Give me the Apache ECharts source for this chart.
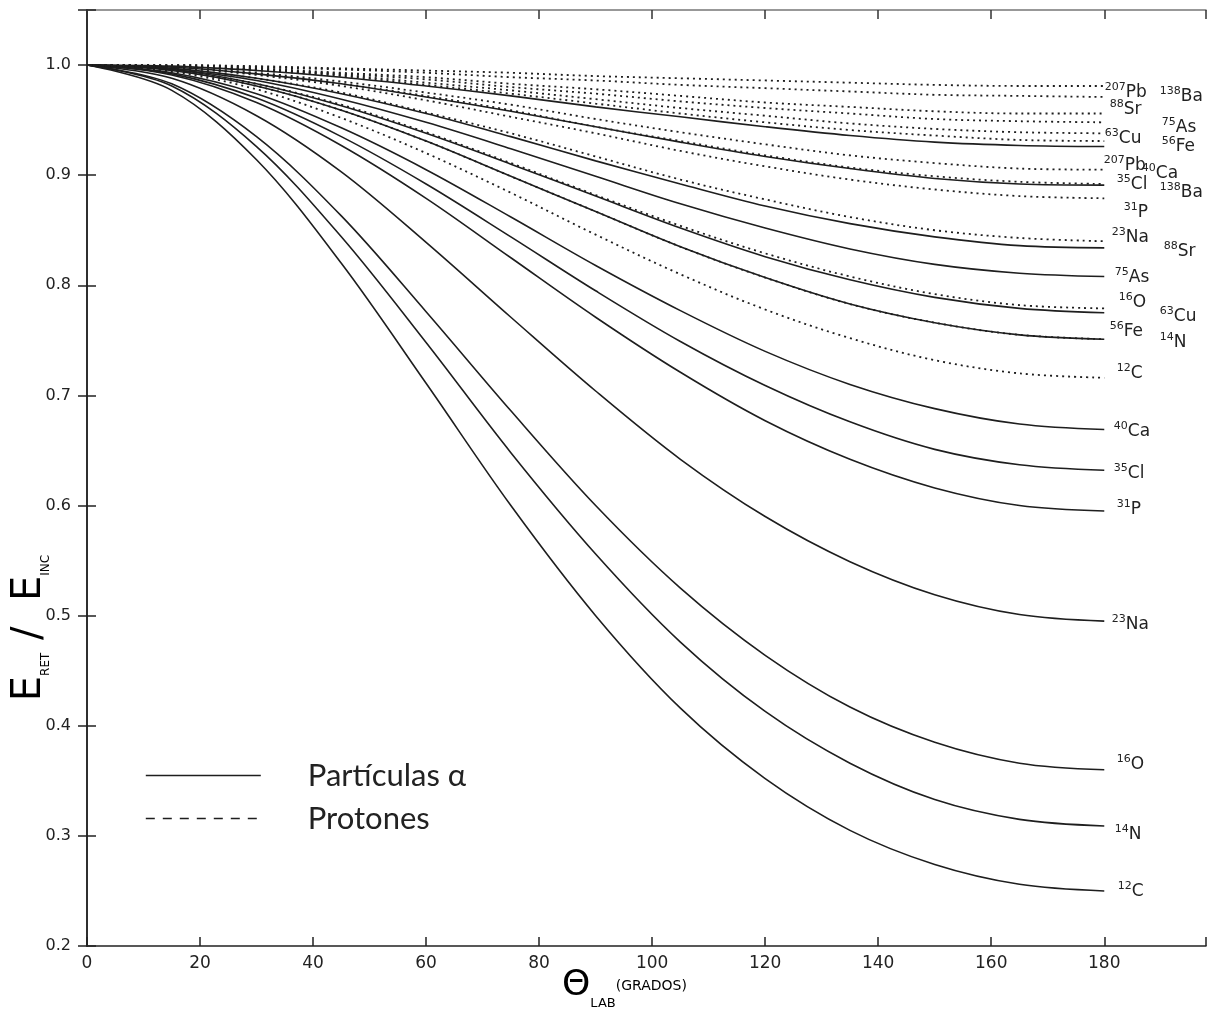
<!DOCTYPE html>
<html>
<head>
<meta charset="utf-8">
<script src="https://cdn.jsdelivr.net/npm/echarts@6/dist/echarts.min.js"></script>
<style>
html, body { margin: 0; padding: 0; background: #fff; }
#chart { width: 1211px; height: 1017px; }
</style>
</head>
<body>
<div id="chart"></div>
<script>
// angulo de laboratorio (grados)
var angles = [0, 15, 30, 45, 60, 75, 90, 105, 120, 135, 150, 165, 180];

// Particulas alfa, E_ret / E_inc
var aC12  = [1, 0.977, 0.914, 0.820, 0.711, 0.600, 0.500, 0.416, 0.352, 0.305, 0.274, 0.256, 0.250];
var aN14  = [1, 0.981, 0.926, 0.844, 0.748, 0.648, 0.556, 0.476, 0.413, 0.366, 0.333, 0.315, 0.309];
var aO16  = [1, 0.983, 0.935, 0.863, 0.776, 0.686, 0.600, 0.525, 0.464, 0.417, 0.385, 0.366, 0.360];
var aNa23 = [1, 0.988, 0.954, 0.903, 0.839, 0.771, 0.704, 0.642, 0.590, 0.549, 0.519, 0.501, 0.495];
var aP31  = [1, 0.991, 0.966, 0.927, 0.879, 0.825, 0.771, 0.721, 0.677, 0.642, 0.616, 0.600, 0.595];
var aCl35 = [1, 0.992, 0.970, 0.935, 0.892, 0.844, 0.795, 0.749, 0.709, 0.676, 0.651, 0.637, 0.632];
var aCa40 = [1, 0.993, 0.974, 0.943, 0.905, 0.862, 0.818, 0.777, 0.740, 0.710, 0.688, 0.674, 0.669];
var aFe56 = [1, 0.995, 0.981, 0.959, 0.931, 0.899, 0.867, 0.835, 0.807, 0.783, 0.766, 0.755, 0.751];
var aCu63 = [1, 0.996, 0.983, 0.963, 0.938, 0.910, 0.881, 0.852, 0.826, 0.805, 0.789, 0.779, 0.775];
var aAs75 = [1, 0.996, 0.986, 0.969, 0.948, 0.924, 0.899, 0.874, 0.852, 0.833, 0.819, 0.811, 0.808];
var aSr88 = [1, 0.997, 0.988, 0.974, 0.956, 0.935, 0.913, 0.892, 0.872, 0.856, 0.844, 0.836, 0.834];
var aBa138 = [1, 0.998, 0.992, 0.983, 0.971, 0.958, 0.944, 0.930, 0.917, 0.906, 0.897, 0.892, 0.891];
var aPb207 = [1, 0.999, 0.995, 0.989, 0.981, 0.972, 0.962, 0.953, 0.944, 0.936, 0.930, 0.927, 0.926];

// Protones
var pC12  = [1, 0.994, 0.978, 0.952, 0.920, 0.884, 0.846, 0.810, 0.778, 0.752, 0.732, 0.720, 0.716];
var pN14  = [1, 0.995, 0.981, 0.959, 0.931, 0.899, 0.867, 0.835, 0.807, 0.783, 0.766, 0.755, 0.751];
var pO16  = [1, 0.996, 0.983, 0.964, 0.939, 0.911, 0.882, 0.854, 0.829, 0.808, 0.792, 0.782, 0.779];
var pNa23 = [1, 0.997, 0.988, 0.975, 0.957, 0.938, 0.917, 0.896, 0.878, 0.862, 0.850, 0.843, 0.840];
var pP31  = [1, 0.998, 0.991, 0.981, 0.968, 0.953, 0.938, 0.922, 0.908, 0.896, 0.887, 0.881, 0.879];
var pCl35 = [1, 0.998, 0.992, 0.983, 0.972, 0.959, 0.944, 0.931, 0.918, 0.907, 0.899, 0.894, 0.892];
var pCa40 = [1, 0.998, 0.993, 0.985, 0.975, 0.964, 0.951, 0.939, 0.928, 0.918, 0.911, 0.906, 0.905];
var pFe56 = [1, 0.999, 0.995, 0.990, 0.982, 0.974, 0.965, 0.956, 0.948, 0.941, 0.936, 0.932, 0.931];
var pCu63 = [1, 0.999, 0.996, 0.991, 0.984, 0.977, 0.969, 0.961, 0.954, 0.947, 0.942, 0.939, 0.938];
var pAs75 = [1, 0.999, 0.996, 0.992, 0.987, 0.980, 0.974, 0.967, 0.961, 0.956, 0.951, 0.949, 0.948];
var pSr88 = [1, 0.999, 0.997, 0.993, 0.989, 0.983, 0.978, 0.972, 0.966, 0.962, 0.958, 0.956, 0.956];
var pBa138 = [1, 1.000, 0.998, 0.996, 0.993, 0.989, 0.986, 0.982, 0.979, 0.976, 0.973, 0.972, 0.971];
var pPb207 = [1, 1.000, 0.999, 0.997, 0.995, 0.993, 0.990, 0.988, 0.986, 0.984, 0.982, 0.981, 0.981];

// etiquetas: [masa, elemento, valores]
var alphaCurves = [
    ['12', 'C', aC12], ['14', 'N', aN14], ['16', 'O', aO16], ['23', 'Na', aNa23],
    ['31', 'P', aP31], ['35', 'Cl', aCl35], ['40', 'Ca', aCa40], ['56', 'Fe', aFe56],
    ['63', 'Cu', aCu63], ['75', 'As', aAs75], ['88', 'Sr', aSr88], ['138', 'Ba', aBa138],
    ['207', 'Pb', aPb207]
];
var protonCurves = [
    ['12', 'C', pC12], ['14', 'N', pN14], ['16', 'O', pO16], ['23', 'Na', pNa23],
    ['31', 'P', pP31], ['35', 'Cl', pCl35], ['40', 'Ca', pCa40], ['56', 'Fe', pFe56],
    ['63', 'Cu', pCu63], ['75', 'As', pAs75], ['88', 'Sr', pSr88], ['138', 'Ba', pBa138],
    ['207', 'Pb', pPb207]
];

// desplazamiento de cada etiqueta respecto al final de su curva (px)
var alphaLabelPos = {
    C: [14, 1], N: [11, 9], O: [13, -5], Na: [8, 4], P: [13, -1], Cl: [10, 4], Ca: [10, 3],
    Fe: [6, -7], Cu: [56, 4], As: [11, 2], Sr: [60, 4], Ba: [56, 8], Pb: [0, 20]
};
var protonLabelPos = {
    C: [13, -4], N: [56, 4], O: [15, -5], Na: [8, -3], P: [20, 15], Cl: [13, 1], Ca: [38, 4],
    Fe: [58, 6], Cu: [1, 6], As: [58, 6], Sr: [6, -3], Ba: [56, 0], Pb: [1, 7]
};

var FONT = 'DejaVu Sans';
var labelRich = {
    m: { fontSize: 11, lineHeight: 12, verticalAlign: 'top', fontFamily: FONT, color: '#222' },
    e: { fontSize: 17, lineHeight: 22, fontFamily: FONT, color: '#222' }
};

function endMark(c, pos) {
    var vals = c[2];
    return {
        symbol: 'rect',
        symbolSize: 1,
        silent: true,
        itemStyle: { color: 'transparent' },
        label: {
            show: true,
            position: pos,
            align: 'left',
            verticalAlign: 'middle',
            formatter: '{m|' + c[0] + '}{e|' + c[1] + '}',
            rich: labelRich
        },
        data: [{ coord: [angles[angles.length - 1], vals[vals.length - 1]] }]
    };
}

var series = [];
alphaCurves.forEach(function (c) {
    series.push({
        name: 'Partículas α',
        type: 'line',
        smooth: 0.34,
        symbol: 'none',
        data: angles.map(function (a, i) { return [a, c[2][i]]; }),
        lineStyle: { color: '#1e1e1e', width: 1.6 },
        itemStyle: { color: '#1e1e1e' },
        markPoint: endMark(c, alphaLabelPos[c[1]])
    });
});
protonCurves.forEach(function (c) {
    series.push({
        name: 'Protones',
        type: 'line',
        smooth: 0.34,
        symbol: 'none',
        data: angles.map(function (a, i) { return [a, c[2][i]]; }),
        lineStyle: { color: '#1e1e1e', width: 1.8, type: [2, 4] },
        itemStyle: { color: '#1e1e1e' },
        markPoint: endMark(c, protonLabelPos[c[1]])
    });
});

var legendText = {
    color: '#222',
    rich: { t: { fontSize: 31, fontFamily: 'Lato', padding: [0, 0, 0, 42], color: '#222' } }
};
var noDot = { color: 'transparent', borderColor: 'transparent', borderWidth: 0 };

var myChart = echarts.init(document.getElementById('chart'));

option = {
    backgroundColor: '#fff',
    animation: false,
    grid: { left: 87, right: 5, top: 10, bottom: 71 },
    legend: [
        {
            data: [{ name: 'Partículas α', itemStyle: noDot, lineStyle: { width: 1.6 } }],
            left: 140, top: 755, itemWidth: 115, itemHeight: 14,
            formatter: '{t|{name}}', textStyle: legendText, selectedMode: false
        },
        {
            data: [{ name: 'Protones', itemStyle: noDot, lineStyle: { type: [9, 8], width: 1.6 } }],
            left: 140, top: 798, itemWidth: 115, itemHeight: 14,
            formatter: '{t|{name}}', textStyle: legendText, selectedMode: false
        }
    ],
    xAxis: [
        {
            type: 'value', min: 0, max: 198, interval: 20,
            axisLine: { lineStyle: { color: '#222', width: 1.5 } },
            axisTick: { inside: true, length: 9, lineStyle: { color: '#222', width: 1.5 } },
            axisLabel: {
                margin: 9, fontSize: 17, fontFamily: FONT, color: '#222',
                formatter: function (v) { return v % 20 === 0 ? String(v) : ''; }
            },
            splitLine: { show: false }
        },
        {
            type: 'value', position: 'top', min: 0, max: 198, interval: 20,
            axisLine: { lineStyle: { color: '#777', width: 1.5 } },
            axisTick: { inside: true, length: 9, lineStyle: { color: '#333', width: 1.5 } },
            axisLabel: { show: false },
            splitLine: { show: false }
        }
    ],
    yAxis: [
        {
            type: 'value', min: 0.2, max: 1.05, interval: 0.1,
            axisLine: { show: true, lineStyle: { color: '#222', width: 1.5 } },
            axisTick: { show: true, inside: true, length: 9, lineStyle: { color: '#222', width: 1.5 } },
            axisLabel: {
                margin: 16, fontSize: 16, fontFamily: FONT, color: '#222',
                formatter: function (v) { return v > 1.02 ? '' : v.toFixed(1); }
            },
            splitLine: { show: false }
        },
        {
            type: 'value', position: 'right', min: 0.2, max: 1.05, interval: 0.1,
            axisLine: { show: true, lineStyle: { color: '#222', width: 1.5 } },
            axisTick: { show: true, inside: true, length: 9, lineStyle: { color: '#222', width: 1.5 } },
            axisLabel: { show: false },
            splitLine: { show: false }
        }
    ],
    graphic: [
        {
            type: 'text', left: 562, top: 968,
            style: {
                text: '{t|Θ}{s|LAB}{g|(GRADOS)}',
                rich: {
                    t: { fontSize: 36, lineHeight: 48, fontFamily: FONT, color: '#222' },
                    s: { fontSize: 13, lineHeight: 15, verticalAlign: 'bottom', fontFamily: FONT, color: '#222' },
                    g: { fontSize: 14, lineHeight: 18, verticalAlign: 'middle', fontFamily: FONT, color: '#222' }
                }
            }
        },
        {
            type: 'text', x: 30, y: 628, rotation: Math.PI / 2,
            style: {
                text: '{e|E}{s|RET}{e| /  E}{s|INC}',
                align: 'center', verticalAlign: 'middle',
                rich: {
                    e: { fontSize: 40, lineHeight: 44, fontFamily: FONT, color: '#222' },
                    s: { fontSize: 12, lineHeight: 14, verticalAlign: 'bottom', fontFamily: FONT, color: '#222' }
                }
            }
        }
    ],
    series: series
};

myChart.setOption(option);
</script>
</body>
</html>
